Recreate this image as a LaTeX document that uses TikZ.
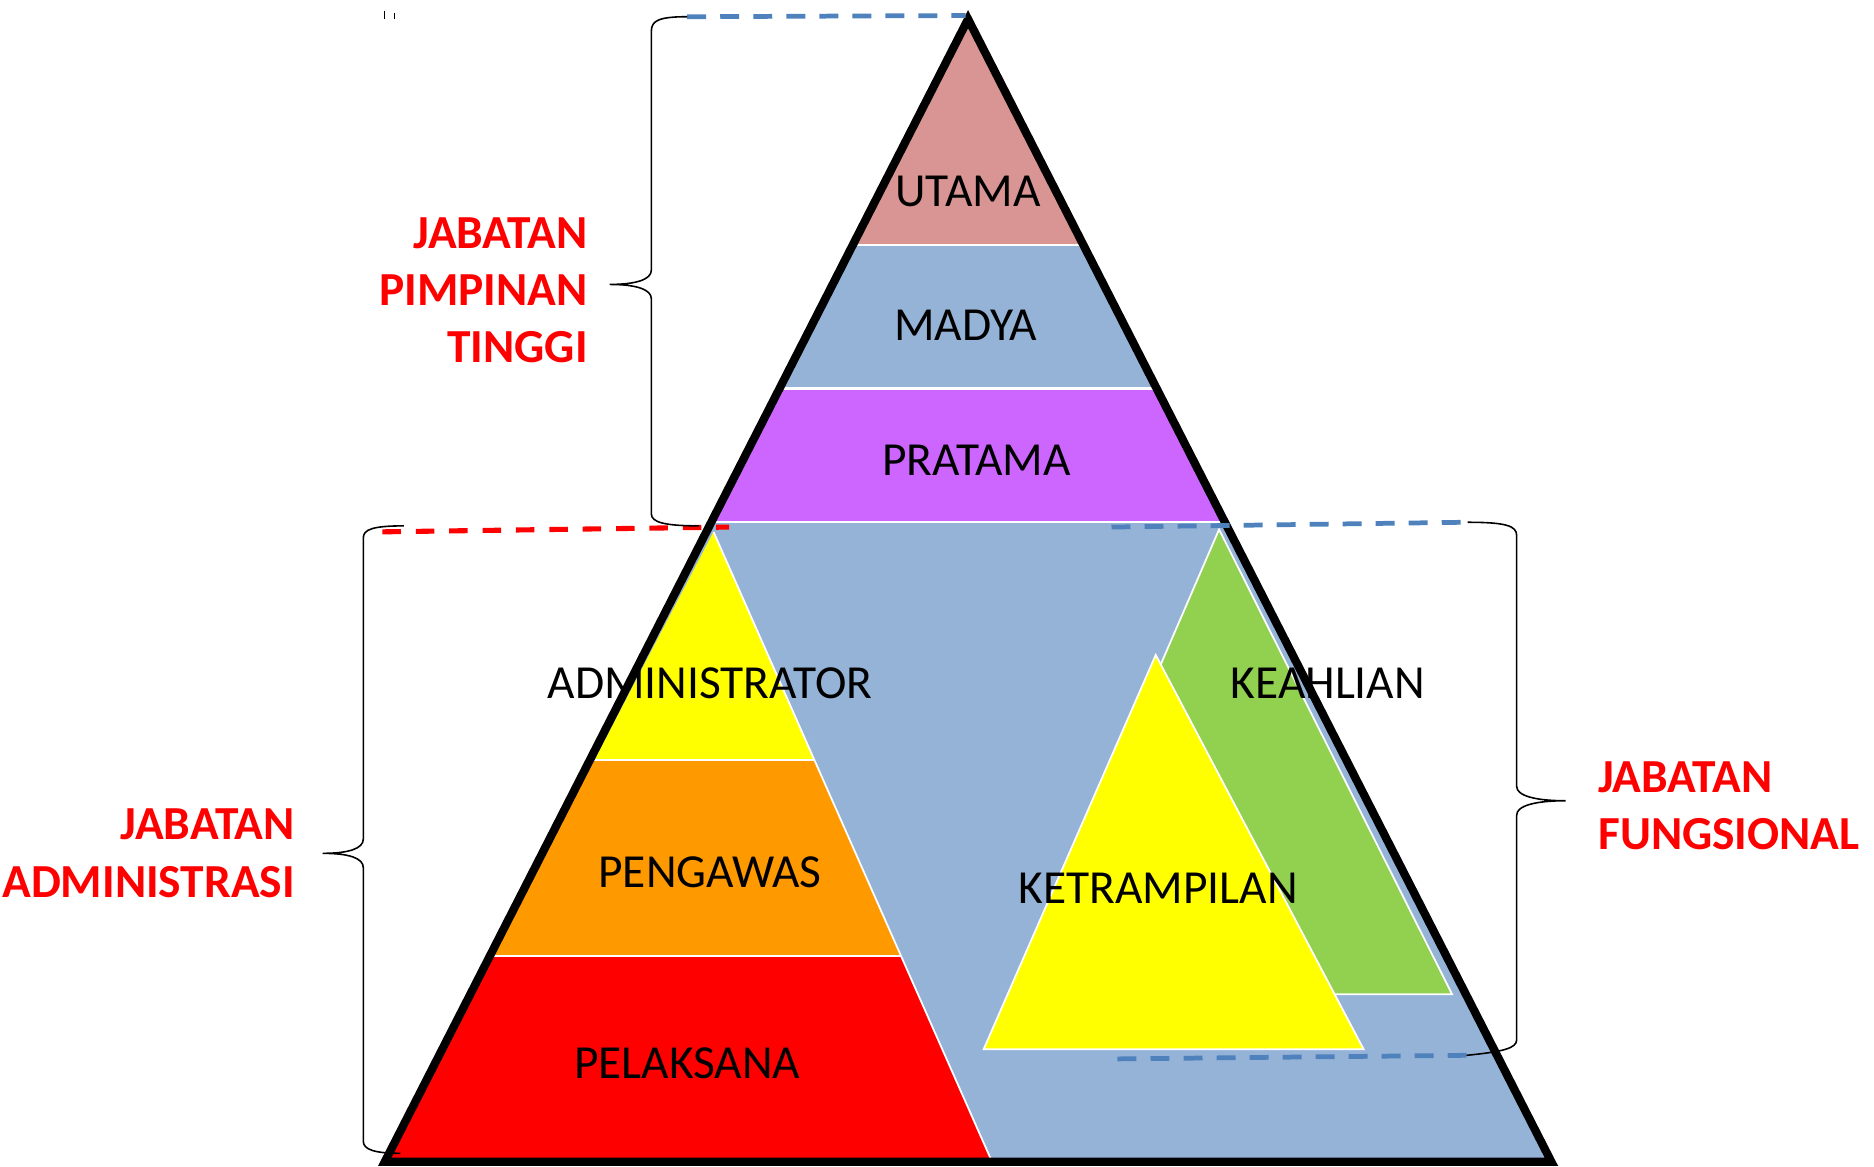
\documentclass[tikz,border=0pt]{standalone}
\usepackage{fontspec}
\setmainfont{Carlito}
\usetikzlibrary{calc}
\definecolor{cutama}{HTML}{D99594}
\definecolor{cblue}{HTML}{95B3D7}
\definecolor{cpratama}{HTML}{CC66FF}
\definecolor{cyel}{HTML}{FFFF00}
\definecolor{corange}{HTML}{FF9900}
\definecolor{cred}{HTML}{FF0000}
\definecolor{cgreen}{HTML}{92D050}
\definecolor{cdash}{HTML}{4F81BD}
\tikzset{
  sep/.style={white, line width=1.3pt},
  lvl/.style={font=\fontsize{27}{32}\selectfont, text=black, inner sep=0pt},
  grp/.style={font=\fontsize{27}{32.6}\selectfont\bfseries, text=cred, inner sep=0pt},
  bracestyle/.style={black, line width=0.9pt},
  bluedash/.style={cdash, line width=2.7pt, dash pattern=on 10.8pt off 8pt},
  reddash/.style={cred, line width=2.9pt, dash pattern=on 10.5pt off 8.5pt},
  outline/.style={black, line width=4.7pt, line join=miter}
}
\begin{document}
\begin{tikzpicture}[x=0.023904cm, y=-0.023904cm]
\useasboundingbox (0,0) rectangle (1568,976);
\coordinate (A) at (810,16);
\coordinate (BL) at (322,972);
\coordinate (BR) at (1298,972);
% main bands
\begin{scope}
  \clip (A) -- (BL) -- (BR) -- cycle;
  \fill[cblue] (0,0) rectangle (1568,976);
  \fill[cutama] (0,0) rectangle (1568,205);
  \fill[cpratama] (0,325) rectangle (1568,437);
  \draw[sep] (0,205) -- (1568,205);
  \draw[sep] (0,325) -- (1568,325);
  \draw[sep] (0,437) -- (1568,437);
\end{scope}
% administrasi sub-triangle
\coordinate (SA) at (597,445);
\coordinate (SL) at (322,972);
\coordinate (SR) at (830,972);
\begin{scope}
  \clip (SA) -- (SL) -- (SR) -- cycle;
  \fill[cyel] (300,430) rectangle (860,636);
  \fill[corange] (300,636) rectangle (860,800);
  \fill[cred] (300,800) rectangle (860,980);
  \draw[sep] (300,636) -- (860,636);
  \draw[sep] (300,800) -- (860,800);
\end{scope}
\draw[white, line width=1pt] (SA) -- (SR);
% fungsional
\coordinate (GA) at (1020,443);
\coordinate (GL) at (852,832);
\coordinate (GR) at (1215,832);
\filldraw[fill=cgreen, draw=white, line width=1pt] (GA) -- (GL) -- (GR) -- cycle;
\coordinate (YA) at (967,548);
\coordinate (YL) at (823,878);
\coordinate (YR) at (1141,878);
\filldraw[fill=cyel, draw=white, line width=1pt] (YA) -- (YL) -- (YR) -- cycle;
% outline
\draw[outline] (A) -- (BL) -- (BR) -- cycle;
% labels
\node[lvl] (utama) at (810,160) {UTAMA};
\node[lvl] (madya) at (808,272) {MADYA};
\node[lvl] (pratama) at (817,385) {PRATAMA};
\node[lvl] (admin) at (594,572) {ADMINISTRATOR};
\node[lvl] (pengawas) at (594,730) {PENGAWAS};
\node[lvl] (pelaksana) at (575,890) {PELAKSANA};
\node[lvl] (keahlian) at (1111,572) {KEAHLIAN};
\node[lvl] (ketrampilan) at (969,743) {KETRAMPILAN};
% dashed lines
\coordinate (d1a) at (575,14);
\coordinate (d1b) at (808,13);
\draw[bluedash] (d1a) -- (d1b);
\coordinate (d2a) at (320,445);
\coordinate (d2b) at (610,441);
\draw[reddash] (d2a) -- (d2b);
\coordinate (d3a) at (930,441);
\coordinate (d3b) at (1225,437);
\draw[bluedash] (d3a) -- (d3b);
\coordinate (d4a) at (935,886);
\coordinate (d4b) at (1227,883);
\draw[bluedash] (d4a) -- (d4b);
% braces
\draw[bracestyle] (d1a) .. controls (552,14) and (545,17) .. (545,26) -- (545,226)
  .. controls (545,234) and (532,238) .. (510,238)
  .. controls (532,238) and (545,242) .. (545,250) -- (545,430)
  .. controls (545,437) and (556,440) .. (585,440);
\draw[bracestyle] (338,440) .. controls (312,440) and (304,443) .. (304,450) -- (304,702)
  .. controls (304,710) and (292,714) .. (270,714)
  .. controls (292,714) and (304,718) .. (304,726) -- (304,955)
  .. controls (304,962) and (314,965) .. (335,965);
\draw[bracestyle] (1228,437) .. controls (1260,437) and (1269,440) .. (1269,448) -- (1269,658)
  .. controls (1269,666) and (1285,670) .. (1310,670)
  .. controls (1285,670) and (1269,674) .. (1269,682) -- (1269,870)
  .. controls (1269,877) and (1258,880) .. (d4b);
% group labels
\node[grp, anchor=east, align=right] (jpt) at (492,243) {JABATAN\\PIMPINAN\\TINGGI};
\node[grp, anchor=east, align=right] (ja) at (247,714) {JABATAN\\ADMINISTRASI};
\node[grp, anchor=west, align=left] (jf) at (1337,674) {JABATAN\\FUNGSIONAL};
% small marks
\draw[black, line width=0.6pt] (322,9) -- (322,16);
\draw[black, line width=0.6pt] (330,11) -- (330,16);
\end{tikzpicture}
\end{document}
